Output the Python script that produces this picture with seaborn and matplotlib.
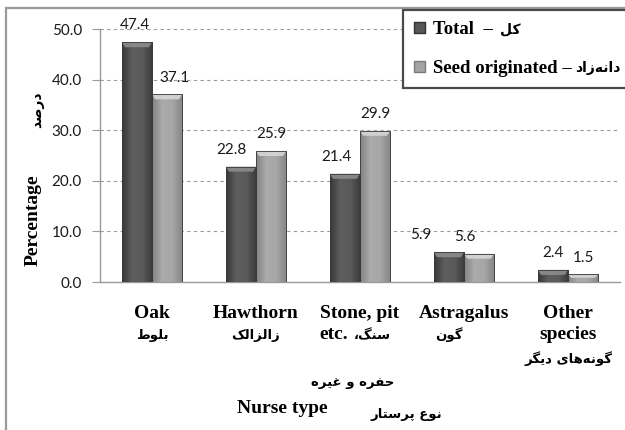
import numpy as np
import pandas as pd
import matplotlib
matplotlib.use("Agg")
import matplotlib.pyplot as plt
import seaborn as sns
from matplotlib.patches import Patch, Rectangle, Polygon
from matplotlib.colors import LinearSegmentedColormap
from matplotlib.font_manager import FontProperties

# ---------------- data ----------------
categories = ["Oak", "Hawthorn", "Stone, pit", "Astragalus", "Other"]
series_names = ["Total", "Seed originated"]
total_values = [47.4, 22.8, 21.4, 5.9, 2.4]
seed_values = [37.1, 25.9, 29.9, 5.6, 1.5]
yticks = [0, 10, 20, 30, 40, 50]

# ---------------- Persian shaping helper ----------------
FORMS = {
    'ا': ('\uFE8D', '\uFE8E', None, None),
    'ب': ('\uFE8F', '\uFE90', '\uFE91', '\uFE92'),
    'پ': ('\uFB56', '\uFB57', '\uFB58', '\uFB59'),
    'ت': ('\uFE95', '\uFE96', '\uFE97', '\uFE98'),
    'ح': ('\uFEA1', '\uFEA2', '\uFEA3', '\uFEA4'),
    'د': ('\uFEA9', '\uFEAA', None, None),
    'ر': ('\uFEAD', '\uFEAE', None, None),
    'ز': ('\uFEAF', '\uFEB0', None, None),
    'س': ('\uFEB1', '\uFEB2', '\uFEB3', '\uFEB4'),
    'ص': ('\uFEB9', '\uFEBA', '\uFEBB', '\uFEBC'),
    'ط': ('\uFEC1', '\uFEC2', '\uFEC3', '\uFEC4'),
    'ع': ('\uFEC9', '\uFECA', '\uFECB', '\uFECC'),
    'غ': ('\uFECD', '\uFECE', '\uFECF', '\uFED0'),
    'ف': ('\uFED1', '\uFED2', '\uFED3', '\uFED4'),
    'ک': ('\uFB8E', '\uFB8F', '\uFB90', '\uFB91'),
    'گ': ('\uFB92', '\uFB93', '\uFB94', '\uFB95'),
    'ل': ('\uFEDD', '\uFEDE', '\uFEDF', '\uFEE0'),
    'ن': ('\uFEE5', '\uFEE6', '\uFEE7', '\uFEE8'),
    'ه': ('\uFEE9', '\uFEEA', '\uFEEB', '\uFEEC'),
    'و': ('\uFEED', '\uFEEE', None, None),
    'ی': ('\uFBFC', '\uFBFD', '\uFBFE', '\uFBFF'),
}


def fa(s):
    chars = list(s)
    out = []
    for i, c in enumerate(chars):
        if c not in FORMS:
            if c != '\u200c':
                out.append(c)
            continue
        prev = chars[i - 1] if i > 0 else None
        nxt = chars[i + 1] if i + 1 < len(chars) else None
        jp = prev in FORMS and FORMS[prev][2] is not None
        jn = FORMS[c][2] is not None and nxt in FORMS
        iso, fin, ini, med = FORMS[c]
        out.append(med if (jp and jn) else fin if jp else ini if jn else iso)
    return ''.join(reversed(out))


fa_categories = ["بلوط", "زالزالک", "سنگ،", "گون", "گونه\u200cهای دیگر"]
fa_total = "کل"
fa_seed = "دانه\u200cزاد"
fa_ylabel = "درصد"
fa_xlabel = "نوع پرستار"
fa_stone2 = "حفره و غیره"

# ---------------- figure ----------------
plt.rcParams['font.family'] = ['Liberation Serif', 'DejaVu Sans']
W, H = 625, 430
fig = plt.figure(figsize=(W / 100, H / 100), dpi=100)
ax_left, ax_right, ax_top, ax_bot = 100, 620, 29, 282
ax = fig.add_axes([ax_left / W, 1 - ax_bot / H, (ax_right - ax_left) / W, (ax_bot - ax_top) / H])

df = pd.DataFrame({
    "nurse": categories * 2,
    "series": [series_names[0]] * len(categories) + [series_names[1]] * len(categories),
    "pct": total_values + seed_values,
})

c_total, c_seed = "#575757", "#a3a3a3"
sns.barplot(data=df, x="nurse", y="pct", hue="series", palette=[c_total, c_seed],
            width=0.58, gap=0, saturation=1, ax=ax, legend=False, zorder=3,
            edgecolor="#3a3a3a", linewidth=0.6)

ax.set_ylim(0, 50)
ax.set_xlim(-0.5, 4.5)

# gradient shading over bars
grad_maps = {
    c_total: LinearSegmentedColormap.from_list("t", ["#383838", "#5e5e5e", "#5a5a5a", "#3a3a3a"]),
    c_seed: LinearSegmentedColormap.from_list("s", ["#838383", "#ababab", "#a6a6a6", "#848484"]),
}
bevel_col = {c_total: "#8c8c8c", c_seed: "#d6d6d6"}
bars = list(ax.patches)
gimg = np.linspace(0, 1, 64)[np.newaxis, :]
for i, p in enumerate(bars):
    key = c_total if i < len(categories) else c_seed
    x0, w, h = p.get_x(), p.get_width(), p.get_height()
    im = ax.imshow(gimg, extent=[x0, x0 + w, 0, h], aspect="auto", cmap=grad_maps[key],
                   zorder=3.1, interpolation="bicubic")
    im.set_clip_path(p)
    bh = min(1.0, h * 0.45)
    ins = 0.03
    poly = Polygon([[x0, h], [x0 + w, h], [x0 + w - ins, h - bh], [x0 + ins, h - bh]],
                   closed=True, facecolor=bevel_col[key], edgecolor="none", zorder=3.2, alpha=0.9)
    ax.add_patch(poly)
    p.set_zorder(3.3)
    p.set_facecolor("none")

ax.set_ylim(0, 50)
ax.set_xlim(-0.5, 4.5)

# value labels
label_dx_px = [-2, -9, -8, -28, 0, 7, 0, 0, -14, 0]
vals = total_values + seed_values
for i, p in enumerate(bars):
    ax.annotate(f"{vals[i]:.1f}", xy=(p.get_x() + p.get_width() / 2, p.get_height()),
                xytext=(label_dx_px[i] * 0.72, 7), textcoords="offset points",
                ha="center", va="bottom", fontsize=11, family="Lato", color="#1a1a1a",
                zorder=5, annotation_clip=False)

# axes styling
ax.set_yticks(yticks)
ax.set_yticklabels([f"{v:.1f}" for v in yticks], fontsize=11, family="Lato", color="#1a1a1a")
ax.tick_params(axis="y", length=6, width=0.8, color="#9a9a9a", pad=7)
ax.set_xticks(range(len(categories)))
ax.set_xticklabels([""] * len(categories))
ax.tick_params(axis="x", length=0)
for s in ["top", "right"]:
    ax.spines[s].set_visible(False)
for s in ["left", "bottom"]:
    ax.spines[s].set_color("#9a9a9a")
    ax.spines[s].set_linewidth(1)
ax.grid(axis="y", color="#9a9a9a", linestyle=(0, (3, 3)), linewidth=0.8, zorder=0)
ax.set_axisbelow(True)
ax.set_xlabel("")
ax.set_ylabel("")

# category labels
tr = ax.get_xaxis_transform()
axh = ax_bot - ax_top


def ay(py):
    return (ax_bot - py) / axh


bold_serif = dict(family=["Liberation Serif", "DejaVu Sans"], weight="bold", fontsize=14, color="black")
fa_font = dict(family=["DejaVu Sans"], weight="bold", fontsize=9.5, color="black")

line1 = ["Oak", "Hawthorn", "Stone, pit", "Astragalus", "Other"]
for i, t in enumerate(line1):
    ax.text(i, ay(318), t, transform=tr, ha="center", va="baseline", **bold_serif)
# Persian second lines
ax.text(0, ay(339), fa(fa_categories[0]), transform=tr, ha="center", va="baseline", **fa_font)
ax.text(1, ay(339), fa(fa_categories[1]), transform=tr, ha="center", va="baseline", **fa_font)
ax.text(2 - 0.25, ay(339), "etc.", transform=tr, ha="center", va="baseline", **bold_serif)
ax.text(2 + 0.12, ay(339), fa(fa_categories[2]), transform=tr, ha="center", va="baseline", **fa_font)
ax.text(3 - 0.15, ay(339), fa(fa_categories[3]), transform=tr, ha="center", va="baseline", **fa_font)
ax.text(4, ay(339), "species", transform=tr, ha="center", va="baseline", **bold_serif)
ax.text(4, ay(363), fa(fa_categories[4]), transform=tr, ha="center", va="baseline", **fa_font)
ax.text(2 - 0.07, ay(386), fa(fa_stone2), transform=tr, ha="center", va="baseline", **fa_font)

# axis titles
ax.text(1.25, ay(413), "Nurse type", transform=tr, ha="center", va="baseline", **bold_serif)
ax.text(2.45, ay(418), fa(fa_xlabel), transform=tr, ha="center", va="baseline", **fa_font)
fig.text(33 / W, 1 - 220 / H, "Percentage", rotation=90, ha="center", va="center", **bold_serif)
fig.text(37 / W, 1 - 110 / H, fa(fa_ylabel), rotation=90, ha="center", va="center",
         **dict(fa_font, fontsize=10))

# legend (Latin part in the legend, Persian part appended right after it)
fp = FontProperties(family=["Liberation Serif", "DejaVu Sans"], weight="bold", size=13.5)
handles = [Patch(facecolor=c_total, edgecolor="#333333"), Patch(facecolor=c_seed, edgecolor="#7a7a7a")]
labels = ["Total  \u2013", "Seed originated \u2013"]
leg = fig.legend(handles, labels, loc="upper left", bbox_to_anchor=(403 / W, 1 - 10 / H),
                 prop=fp, frameon=True, fancybox=False, edgecolor="none",
                 handlelength=0.55, handleheight=0.55, handletextpad=0.45,
                 labelspacing=1.17, borderpad=0.6, borderaxespad=0)
leg.set_zorder(6)
leg.get_frame().set_facecolor("none")
fig.canvas.draw()
renderer = fig.canvas.get_renderer()
fa_leg = [fa(fa_total), fa(fa_seed)]
gaps = [7, 3]
for t, s, g in zip(leg.get_texts(), fa_leg, gaps):
    bb = t.get_window_extent(renderer)
    fig.text((bb.x1 + g) / W, (bb.y0 + bb.y1) / 2 / H + 0.5 / H, s, ha="left", va="center",
             family=["DejaVu Sans"], weight="bold", fontsize=10, color="black", zorder=10)
fb = leg.get_frame().get_window_extent(renderer)
# legend box running off the right edge like the reference
fig.add_artist(Rectangle((fb.x0 / W, fb.y0 / H), (W + 20 - fb.x0) / W, (fb.y1 - fb.y0) / H,
                         transform=fig.transFigure, facecolor="white", edgecolor="#4a4a4a",
                         linewidth=1.6, zorder=5))

# outer frame
fig.add_artist(Rectangle((6 / W, -0.05), 1.2, 1.05 - 8 / H, transform=fig.transFigure,
                         fill=False, edgecolor="#9a9a9a", linewidth=1.6))

fig.savefig("out.png", dpi=100)
